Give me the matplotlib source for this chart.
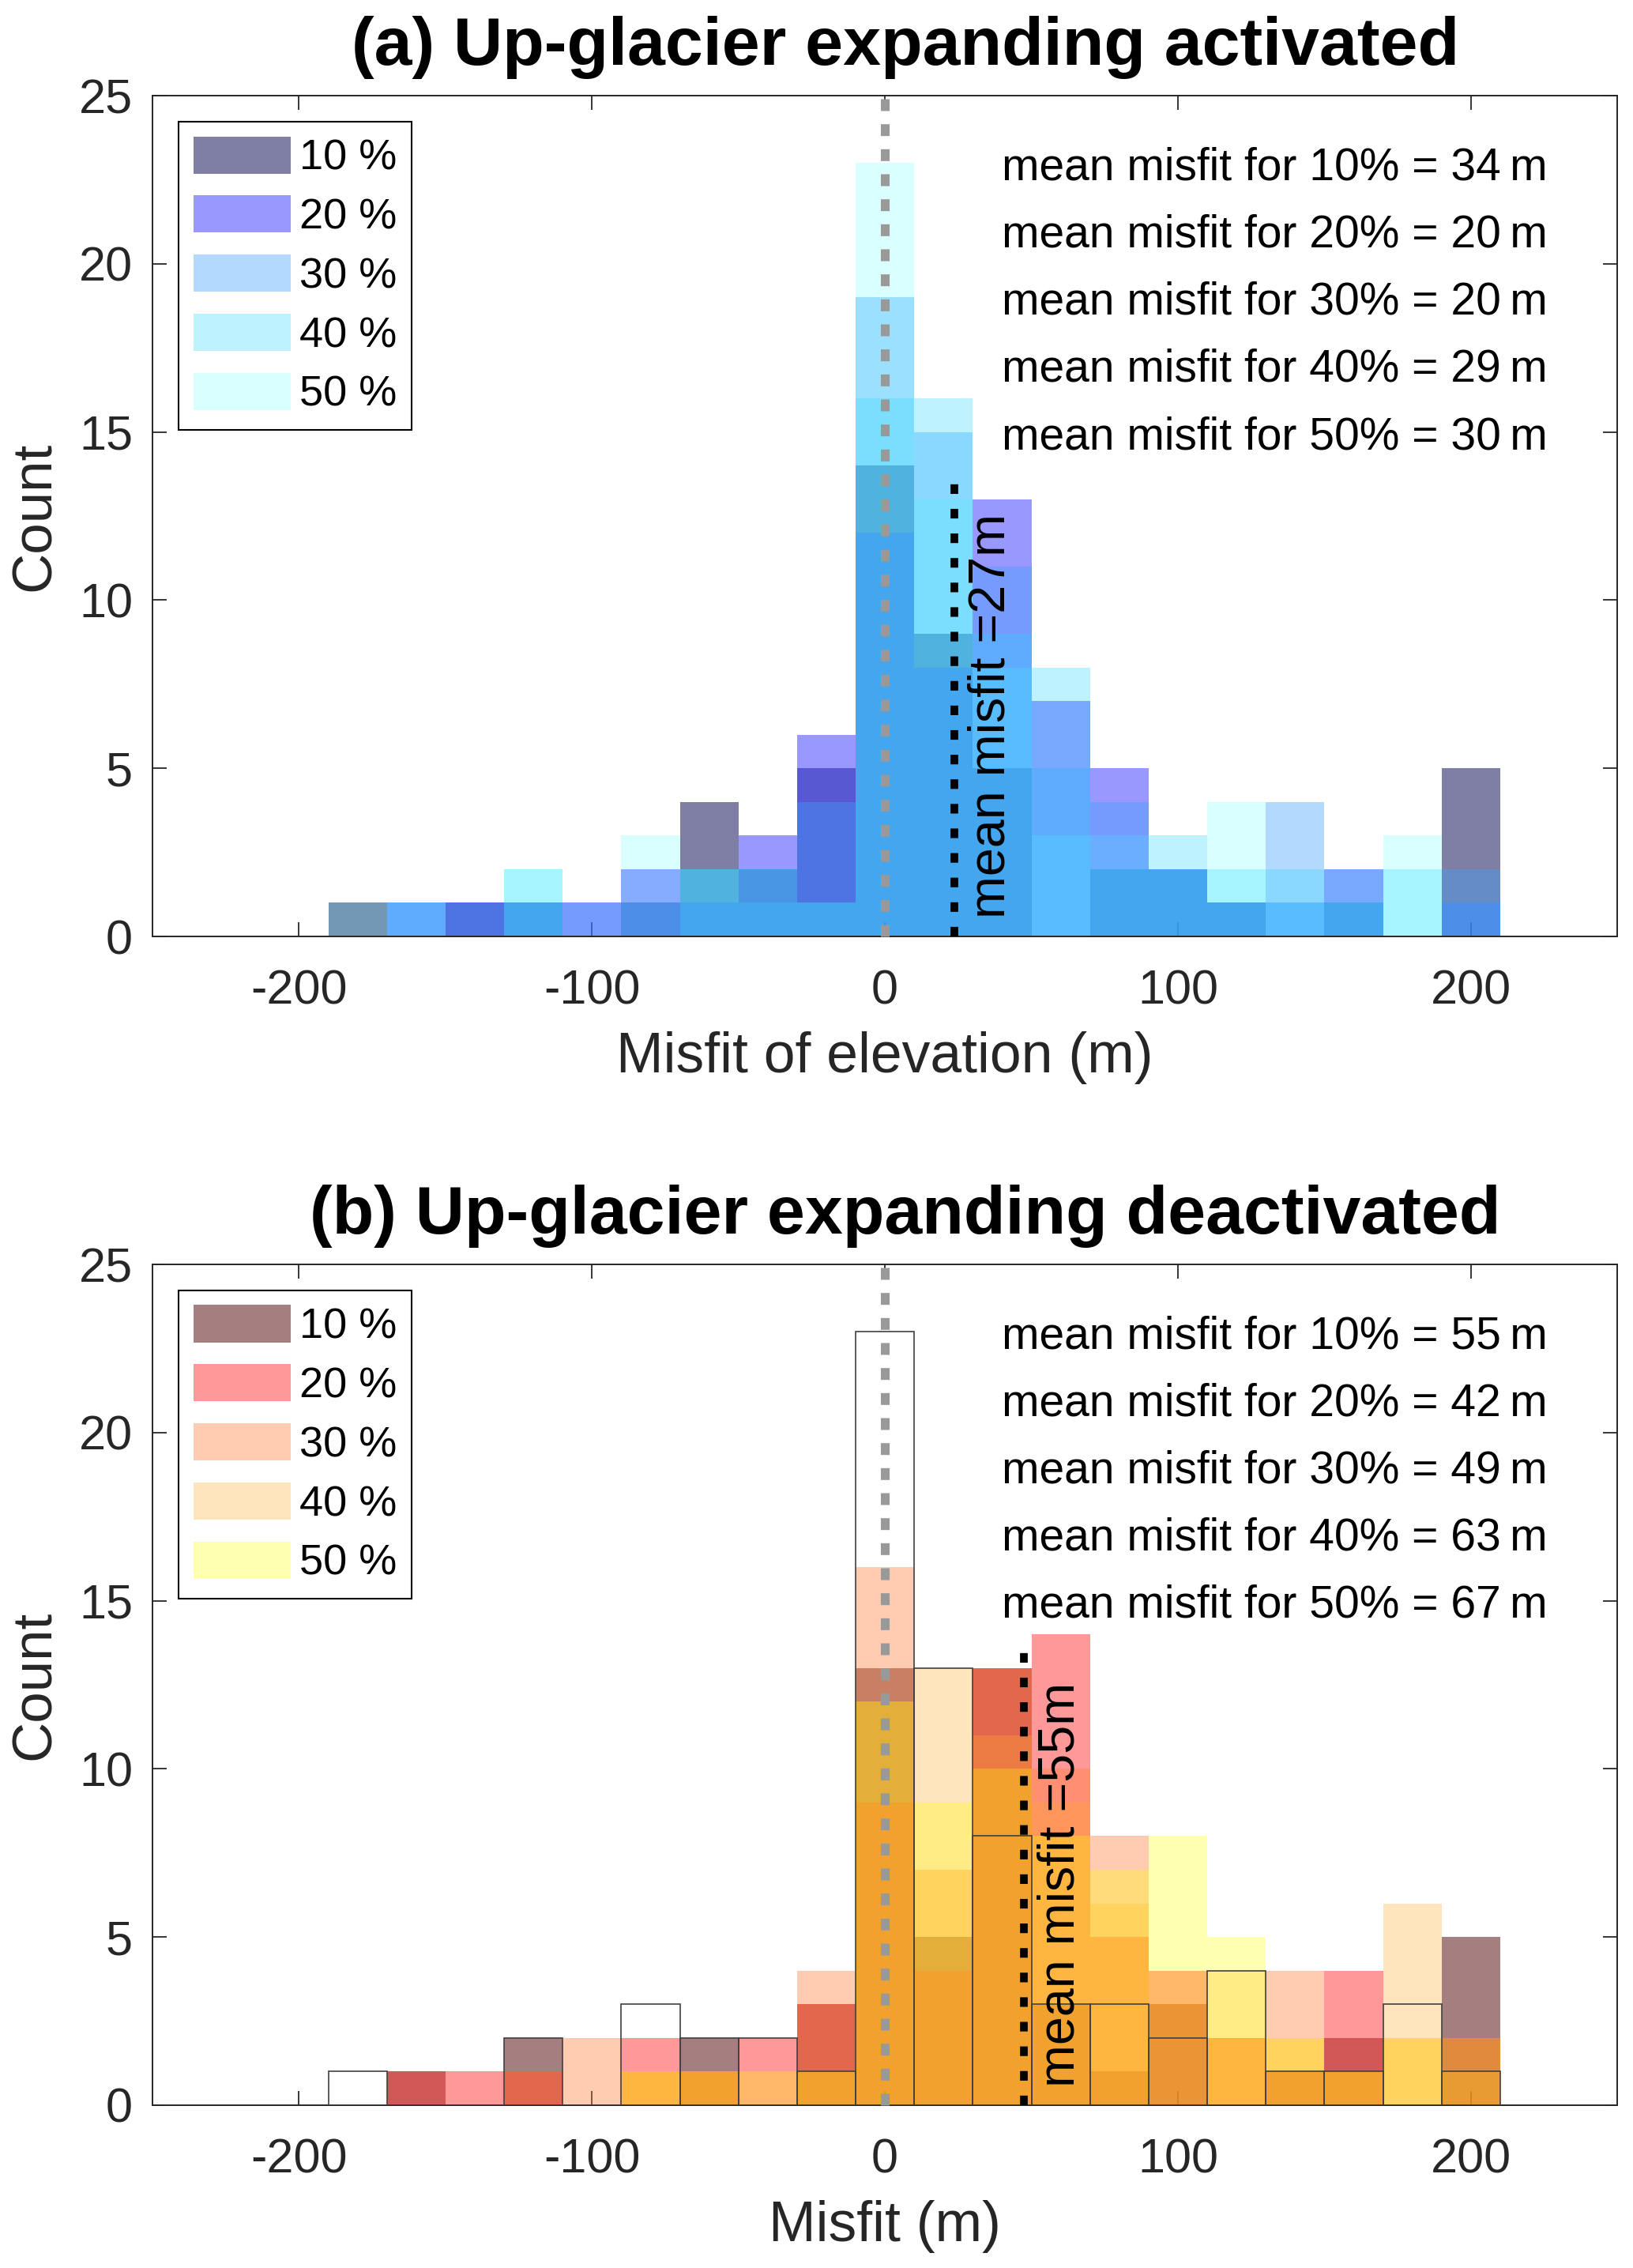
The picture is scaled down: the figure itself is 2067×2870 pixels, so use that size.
import matplotlib
matplotlib.use("Agg")
import matplotlib.pyplot as plt
from matplotlib.patches import Patch

# histogram bins (centres, 20 m wide)
BIN_CENTERS = list(range(-180, 201, 20))
BIN_WIDTH = 20
PERCENT_LABELS = ["10 %", "20 %", "30 %", "40 %", "50 %"]
PERCENTS = [10, 20, 30, 40, 50]

# (a) up-glacier expanding activated: counts per bin
ACT_10 = [1, 0, 1, 1, 0, 1, 4, 2, 5, 14, 9, 5, 0, 2, 2, 1, 0, 1, 0, 5]
ACT_20 = [0, 1, 1, 1, 1, 2, 1, 3, 6, 12, 8, 13, 7, 5, 2, 1, 1, 2, 0, 1]
ACT_30 = [0, 1, 1, 1, 1, 1, 2, 1, 4, 19, 15, 11, 5, 4, 2, 1, 4, 1, 0, 2]
ACT_40 = [0, 1, 0, 2, 0, 0, 2, 2, 1, 16, 16, 9, 8, 2, 3, 2, 2, 2, 2, 0]
ACT_50 = [1, 0, 0, 2, 0, 3, 2, 2, 1, 23, 13, 8, 3, 3, 2, 4, 1, 1, 3, 1]

# (b) up-glacier expanding deactivated: counts per bin
DEACT_10 = [0, 1, 0, 2, 0, 0, 2, 0, 3, 13, 5, 13, 3, 1, 3, 0, 1, 2, 0, 5]
DEACT_20 = [0, 1, 1, 1, 0, 2, 1, 2, 3, 9, 4, 13, 14, 5, 4, 2, 1, 4, 0, 2]
DEACT_30 = [0, 0, 0, 1, 2, 1, 1, 0, 4, 16, 7, 13, 10, 8, 3, 2, 4, 1, 2, 0]
DEACT_40 = [0, 0, 0, 0, 0, 1, 1, 0, 1, 12, 13, 11, 9, 6, 0, 4, 2, 1, 6, 1]
DEACT_50 = [0, 0, 0, 0, 0, 1, 1, 1, 1, 12, 9, 10, 8, 7, 8, 5, 2, 1, 2, 2]

ACT_MEANS = [34, 20, 20, 29, 30]
DEACT_MEANS = [55, 42, 49, 63, 67]
ACT_OVERALL = 27
DEACT_OVERALL = 55
# where the dotted mean lines are drawn in the figure, and their heights
ACT_LINE = (23.7, 13.5)
DEACT_LINE = (47.4, 13.7)

BLUES = [(0.0, 0.0, 0.3), (0.2, 0.2, 1.0), (0.255, 0.627, 1.0), (0.176, 0.83, 1.0), (0.255, 1.0, 1.0)]
WARMS = [(0.3, 0.0, 0.0), (1.0, 0.2, 0.2), (1.0, 0.5, 0.24), (1.0, 0.675, 0.165), (1.0, 1.0, 0.0)]
ALPHAS_A = [0.5, 0.5, 0.4, 0.3, 0.2]
ALPHAS_B = [0.5, 0.5, 0.4, 0.3, 0.3]

AX_GREY = (0.15, 0.15, 0.15)

plt.rcParams.update({
    "font.family": ["Liberation Sans", "DejaVu Sans"],
    "axes.linewidth": 1.4,
    "axes.unicode_minus": False,
})


def style_axes(ax, xlabel):
    ax.set_xlim(-250, 250)
    ax.set_ylim(0, 25)
    ax.set_xticks([-200, -100, 0, 100, 200])
    ax.set_yticks([0, 5, 10, 15, 20, 25])
    ax.tick_params(direction="in", length=13, width=1.3, top=True, right=True,
                   labelsize=44, colors=AX_GREY)
    ax.tick_params(axis="x", pad=30)
    ax.tick_params(axis="y", pad=18)
    for s in ax.spines.values():
        s.set_color(AX_GREY)
    ax.set_xlabel(xlabel, fontsize=51.5, color=AX_GREY)
    ax.set_ylabel("Count", fontsize=51, color=AX_GREY)
    ax.xaxis.set_label_coords(0.5, -0.113)
    ax.yaxis.set_label_coords(-0.062, 0.5)


def panel(ax, series, colors, alphas, means, overall, line, title, xlabel, outline=None):
    for counts, col, al in zip(series, colors, alphas):
        ax.bar(BIN_CENTERS, counts, width=BIN_WIDTH, color=col, alpha=al,
               linewidth=0, zorder=2)
    if outline is not None:
        ax.bar(BIN_CENTERS, outline, width=BIN_WIDTH, fill=False,
               edgecolor=(0.25, 0.25, 0.25), linewidth=1.2, zorder=3)

    ax.plot([0, 0], [0, 25], color=(0.6, 0.6, 0.6), linewidth=8,
            linestyle=(0, (1.35, 1.5)), zorder=4, clip_on=False)
    ax.plot([line[0], line[0]], [0, line[1]], color="black", linewidth=7,
            linestyle=(0, (1.25, 1.95)), zorder=5)
    ax.text(line[0] + 12.5, 0.55, f"mean misfit ={overall}m", rotation=90,
            ha="center", va="bottom", fontsize=46.5, zorder=6)

    for i, (p, m) in enumerate(zip(PERCENTS, means)):
        ax.text(40, 22.85 - 2 * i, f"mean misfit for {p}% = {m}\u2009m",
                ha="left", va="center", fontsize=41, zorder=6)

    handles = [Patch(facecolor=c, alpha=a, edgecolor="none") for c, a in zip(colors, alphas)]
    leg = ax.legend(handles, PERCENT_LABELS, loc="upper left", fontsize=39,
                    frameon=True, fancybox=False, framealpha=1,
                    borderaxespad=0.6, borderpad=0.35, labelspacing=0.4,
                    handlelength=2.28, handleheight=0.96, handletextpad=0.2)
    leg.get_frame().set_edgecolor("black")
    leg.get_frame().set_linewidth(1.5)
    leg.set_zorder(10)

    ax.set_title(title, fontsize=62, fontweight="bold", pad=28, x=0.514)
    style_axes(ax, xlabel)


fig = plt.figure(figsize=(20.67, 28.70), dpi=100)
ax_a = fig.add_axes([0.0934, 0.5871, 0.897, 0.3707])
ax_b = fig.add_axes([0.0934, 0.0718, 0.897, 0.3707])

panel(ax_a, [ACT_10, ACT_20, ACT_30, ACT_40, ACT_50], BLUES, ALPHAS_A,
      ACT_MEANS, ACT_OVERALL, ACT_LINE,
      "(a) Up-glacier expanding activated", "Misfit of elevation (m)")
panel(ax_b, [DEACT_10, DEACT_20, DEACT_30, DEACT_40, DEACT_50], WARMS, ALPHAS_B,
      DEACT_MEANS, DEACT_OVERALL, DEACT_LINE,
      "(b) Up-glacier expanding deactivated", "Misfit (m)", outline=ACT_50)

fig.savefig("out.png", dpi=100)
